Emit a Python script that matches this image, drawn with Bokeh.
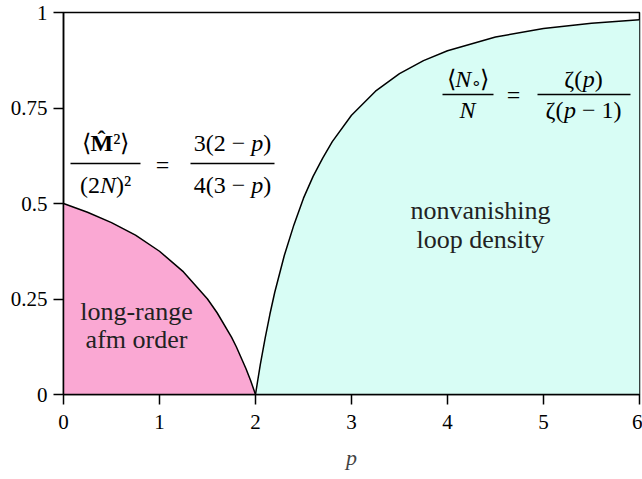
from bokeh.plotting import figure
from bokeh.models import Range1d, FixedTicker, Label
from bokeh.embed import file_html
from bokeh.resources import INLINE

# ---- data ----
p_afm = [0.0, 0.25, 0.5, 0.75, 1.0, 1.25, 1.5, 1.6, 1.75, 1.8, 1.9, 1.95, 2.0]
m2_afm = [0.5, 0.477, 0.45, 0.417, 0.375, 0.321, 0.25, 0.214, 0.15, 0.125, 0.068, 0.036, 0.0]

p_loop = [2.0, 2.02, 2.05, 2.1, 2.15, 2.2, 2.3, 2.4, 2.5, 2.6, 2.7, 2.8, 3.0,
          3.25, 3.5, 3.75, 4.0, 4.5, 5.0, 5.5, 6.0]
loop_density = [0.0, 0.032, 0.078, 0.147, 0.210, 0.267, 0.364, 0.444, 0.514, 0.571,
                0.619, 0.662, 0.731, 0.794, 0.840, 0.874, 0.900, 0.936, 0.958, 0.972, 0.981]

x_ticks = [0, 1, 2, 3, 4, 5, 6]
y_ticks = [0, 0.25, 0.5, 0.75, 1]
y_tick_labels = ["0", "0.25", "0.5", "0.75", "1"]

PINK = "#FAA8D3"
CYAN = "#D8FDF5"
FONT = "Liberation Serif"

p = figure(width=642, height=479, output_backend="svg", toolbar_location=None,
           x_range=Range1d(0, 6), y_range=Range1d(0, 1),
           min_border_left=63, min_border_right=3, min_border_top=12, min_border_bottom=85)
p.background_fill_color = "white"
p.border_fill_color = "white"
p.grid.visible = False
p.outline_line_color = "black"
p.outline_line_width = 1.5

p.varea(x=p_afm, y1=0, y2=m2_afm, fill_color=PINK)
p.varea(x=p_loop, y1=0, y2=loop_density, fill_color=CYAN)
p.line(p_afm, m2_afm, line_color="black", line_width=1.5)
p.line(p_loop, loop_density, line_color="black", line_width=1.5)

for ax in (p.xaxis[0], p.yaxis[0]):
    ax.axis_line_width = 1.5
    ax.major_tick_line_width = 1.5
    ax.major_tick_out = 10
    ax.major_tick_in = 0
    ax.minor_tick_out = 0
    ax.minor_tick_in = 0
    ax.major_label_text_font = FONT
    ax.major_label_text_font_size = "21px"
    ax.major_label_text_color = "black"

p.xaxis.ticker = FixedTicker(ticks=x_ticks)
p.yaxis.ticker = FixedTicker(ticks=y_ticks)
p.yaxis.major_label_overrides = {t: s for t, s in zip(y_ticks, y_tick_labels)}
p.xaxis.major_label_standoff = 10
p.yaxis.major_label_standoff = 6
p.xaxis.axis_label = "p"
p.xaxis.axis_label_text_font = FONT
p.xaxis.axis_label_text_font_style = "italic"
p.xaxis.axis_label_text_font_size = "22px"
p.xaxis.axis_label_standoff = 13


def px2x(px):
    return (px - 63) / 96.0


def py2y(py):
    return (394 - py) / 382.0


REG = {'(': .333, ')': .333, ' ': .25, '\u00a0': .25, '−': .564, '=': .564, '²': .3,
       '⟨': .36, '⟩': .36, 'ζ': .44, '∘': .5, '\u0302': 0.0}
ITAL = {'p': .5, 'N': .667}
BOLD = {'M': .944}


def width(text, style, size):
    w = 0.0
    for c in text:
        if style == "italic" and c in ITAL:
            w += ITAL[c]
        elif style == "bold" and c in BOLD:
            w += BOLD[c]
        else:
            w += REG.get(c, 0.5)
    return w * size


def run(pieces, cx, base_py, baseline="alphabetic"):
    # pieces: (text, style, size, dy_px)
    total = sum(width(t, s, sz) for t, s, sz, dy in pieces)
    x = cx - total / 2.0
    for t, s, sz, dy in pieces:
        p.add_layout(Label(x=px2x(x), y=py2y(base_py + dy), text=t,
                           text_font=FONT, text_font_style=s,
                           text_font_size=f"{sz}px", text_color="black",
                           text_align="left", text_baseline=baseline))
        x += width(t, s, sz)


def bar(x0, x1, py):
    p.segment(x0=[px2x(x0)], y0=[py2y(py)], x1=[px2x(x1)], y1=[py2y(py)],
              line_color="black", line_width=1.3)


S = 24
NB = "\u00a0"
# left formula
run([("⟨", "normal", S, 0), ("M\u0302", "bold", S, 0), ("²", "normal", S, 0), ("⟩", "normal", S, 0)], 105, 142)
bar(70, 140, 163)
run([("(2", "normal", S, 0), ("N", "italic", S, 0), (")²", "normal", S, 0)], 105, 184)
run([("=", "normal", S, 0)], 162, 164, baseline="middle")
run([("3(2" + NB + "−" + NB, "normal", S, 0), ("p", "italic", S, 0), (")", "normal", S, 0)], 232, 142)
bar(190, 274, 163)
run([("4(3" + NB + "−" + NB, "normal", S, 0), ("p", "italic", S, 0), (")", "normal", S, 0)], 232, 184)

# right formula
run([("⟨", "normal", S, 0), ("N", "italic", S, 0), ("∘", "normal", 17, 4), ("⟩", "normal", S, 0)], 467, 78)
bar(442, 493, 94)
run([("N", "italic", S, 0)], 467, 109)
run([("=", "normal", S, 0)], 513, 94, baseline="middle")
run([("ζ(", "normal", S, 0), ("p", "italic", S, 0), (")", "normal", S, 0)], 583, 78)
bar(537, 630, 94)
run([("ζ(", "normal", S, 0), ("p", "italic", S, 0), (NB + "−" + NB + "1)", "normal", S, 0)], 583, 109)

# region labels
for txt, cx, cy in [("long-range", 136, 311), ("afm order", 136, 339),
                    ("nonvanishing", 480, 210), ("loop density", 480, 239)]:
    p.add_layout(Label(x=px2x(cx), y=py2y(cy), text=txt, text_font=FONT,
                       text_font_size="26px", text_color="#222222",
                       text_align="center", text_baseline="middle"))

open("out.html", "w").write(file_html(p, INLINE))
